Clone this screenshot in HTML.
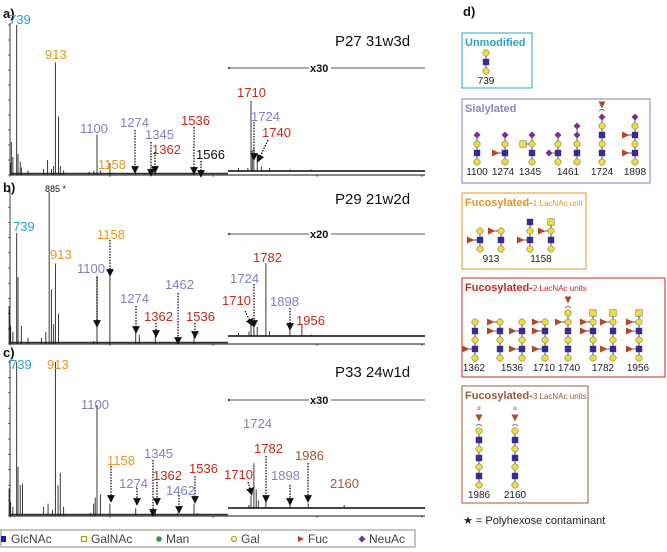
<!DOCTYPE html>
<html><head><meta charset="utf-8"><style>
html,body{margin:0;padding:0;background:#fff;}
svg{display:block;font-family:"Liberation Sans",sans-serif;}
</style></head><body>
<svg id="fig" width="667" height="552" viewBox="0 0 667 552" xmlns="http://www.w3.org/2000/svg">
<defs>
<marker id="ah" markerWidth="6" markerHeight="6" refX="3" refY="3" orient="auto"><path d="M0,0 L6,3 L0,6 z" fill="#111"/></marker>
</defs>
</svg>
<script>
// ---- data ----
const peaksA_mz=[712,715,722,739,745,755,760,790,860,878,895,905,913,927,935,950,1064,1086,1100,1115,1158,1274,1345,1362,1536,1566];
const peaksA_int=[8,22,12,100,14,9,5,3,4,10,4,6,75,39,6,3,2,3,27,3,8,3,2,3,3,1];
const insetA_mz=[1650,1695,1710,1716,1724,1740,1760,1800,1900,2000];
const insetA_int=[2,2,47,14,16,10,3,2,1,1];
const peaksB_mz=[705,712,722,739,745,760,790,850,870,885,895,905,913,927,1085,1100,1158,1274,1290,1362,1462,1536];
const peaksB_int=[25,12,8,73,44,12,4,4,8,100,36,13,53,20,2,45,49,10,6,7,1,6];
const insetB_mz=[1650,1700,1710,1724,1740,1782,1800,1898,1956,2000];
const insetB_int=[2,3,8,12,6,48,3,6,8,1];
const peaksC_mz=[705,712,722,739,745,755,765,860,880,900,913,925,935,950,1070,1085,1092,1100,1115,1158,1274,1345,1362,1462,1536,1550];
const peaksC_int=[18,9,6,100,32,20,21,6,8,4,100,20,28,6,2,8,12,72,14,8,5,2,4,2,8,2];
const insetC_mz=[1700,1710,1724,1735,1745,1782,1898,1986,2160];
const insetC_int=[2,8,29,12,5,5,2,3,2];

const NS="http://www.w3.org/2000/svg";
const svg=document.getElementById('fig');
function el(tag,attrs,parent){const e=document.createElementNS(NS,tag);for(const k in attrs)e.setAttribute(k,attrs[k]);(parent||svg).appendChild(e);return e;}
function txt(x,y,s,attrs,parent){const t=el('text',Object.assign({x:x,y:y},attrs||{}),parent);t.textContent=s;return t;}
const xMain=m=>97+(m-1100)*0.2225;
const xIns=m=>251+(m-1710)*0.207;
const CYAN="#2aa3c8",ORG="#e8961e",PUR="#7f80c4",RED="#c8281e",BRN="#a0583a";

const panels=[
 {id:'a',top:25,base:175,ins:171,mz:peaksA_mz,it:peaksA_int,imz:insetA_mz,iit:insetA_int,line:68,mult:'x30',title:'P27 31w3d',ty:46,ly:18,
  labels:[['739',9,24,CYAN],['913',45,59,ORG],['1100',80,133,PUR],['1274',120,127,PUR],['1345',145,139,PUR],['1362',152,154,RED],['1536',181,125,RED],['1566',196,159,'#111'],['1158',98,169,ORG],['1710',237,97,RED],['1724',251,121,PUR],['1740',262,137,RED]],
  arrows:[[135,130,135,170],[151,142,151,173],[155,152,155,170],[194,127,194,171],[201,161,201,174],[254,122,254,157],[268,140,259,159]]},
 {id:'b',top:192,base:344,ins:336,mz:peaksB_mz,it:peaksB_int,imz:insetB_mz,iit:insetB_int,line:234,mult:'x20',title:'P29 21w2d',ty:204,ly:192,
  labels:[['739',13,231,CYAN],['1158',97,239,ORG],['913',50,259,ORG],['1100',77,273,PUR],['1274',120,303,PUR],['1362',144,321,RED],['1536',186,321,RED],['1462',165,289,PUR],['1782',253,262,RED],['1724',230,283,PUR],['1710',222,305,RED],['1898',270,306,PUR],['1956',296,325,RED]],
  arrows:[[97,277,97,324],[110,240,110,273],[136,306,136,330],[156,323,156,334],[178,293,178,341],[195,323,195,335],[254,284,254,324],[245,311,251,323],[290,308,290,327]]},
 {id:'c',top:362,base:516,ins:508,mz:peaksC_mz,it:peaksC_int,imz:insetC_mz,iit:insetC_int,line:400,mult:'x30',title:'P33 24w1d',ty:377,ly:357,
  labels:[['739',10,369,CYAN],['913',47,369,ORG],['1100',81,409,PUR],['1158',107,465,ORG],['1345',144,458,PUR],['1274',119,488,PUR],['1362',153,480,RED],['1462',166,495,PUR],['1536',189,473,RED],['1710',224,479,RED],['1724',243,428,PUR],['1782',254,453,RED],['1898',271,480,PUR],['1986',295,460,BRN],['2160',330,488,BRN]],
  arrows:[[111,466,111,499],[137,488,137,502],[153,460,153,513],[157,482,157,502],[179,495,179,510],[195,476,195,500],[248,482,251,492],[266,456,266,499],[290,485,290,502],[308,463,308,499]]}
];

panels.forEach(p=>{
  const g=el('g',{});
  
  
  const h=p.base-p.top;
  txt(3,p.ly,p.id+')',{'font-size':13,'font-weight':'bold',fill:'#111'},g);
  const t=txt(335,p.ty,p.title,{'font-size':15,fill:'#111'},g);
  
  
  const ax=el('line',{x1:10,y1:p.base,x2:425,y2:p.base,stroke:'#111','stroke-width':1},g);
  
  
  const ay=el('line',{x1:10,y1:p.top-2,x2:10,y2:p.base,stroke:'#111','stroke-width':0.8},g);
  
  
  for(let i=0;i<=10;i++){const y=p.base-h*i/10;el('line',{x1:8,y1:y,x2:10,y2:y,stroke:'#111','stroke-width':0.6},g);}
  [10,110,213,317,422].forEach(x=>el('line',{x1:x,y1:p.base,x2:x,y2:p.base+2,stroke:'#111','stroke-width':0.6},g));
  el('line',{x1:10,y1:p.base-1.5,x2:228,y2:p.base-1.5,stroke:'#333','stroke-width':1.6},g);
  p.mz.forEach((m,i)=>{const x=xMain(m);const l=el('line',{x1:x,y1:p.base,x2:x,y2:p.base-h*p.it[i]/100,stroke:'#222','stroke-width':0.9},g);
    
    });
  el('line',{x1:228,y1:p.ins,x2:425,y2:p.ins,stroke:'#444','stroke-width':2},g);
  p.imz.forEach((m,i)=>{const x=xIns(m);const l=el('line',{x1:x,y1:p.ins,x2:x,y2:p.ins-h*p.iit[i]/100,stroke:'#222','stroke-width':0.9},g);
    
    });
  el('line',{x1:228,y1:p.line,x2:425,y2:p.line,stroke:'#222','stroke-width':0.8},g);
  el('circle',{cx:229,cy:p.line,r:1,fill:'#222'},g);
  el('rect',{x:309,y:p.line-6,width:22,height:12,fill:'#fff'},g);
  const mt=txt(310,p.line+4,p.mult,{'font-size':11,'font-weight':'bold',fill:'#111'},g);
  
  
  p.labels.forEach(L=>{const e=txt(L[1],L[2],L[0],{'font-size':13,fill:L[3]},g);
    
    });
  p.arrows.forEach(a=>{el('line',{x1:a[0],y1:a[1],x2:a[2],y2:a[3],stroke:'#111','stroke-width':1.3,'stroke-dasharray':'1.5,1.3','marker-end':'url(#ah)'},g);});
});
txt(45,192,'885 *',{'font-size':9,fill:'#111'});

const Y="#f2dc3a",B="#3b2a8f",F="#b5452b",S="#7b2f8f";
function sym(t,x,y,g){
  if(t==='G')el('circle',{cx:x,cy:y,r:3.2,fill:Y,stroke:'#555','stroke-width':0.5},g);
  else if(t==='N')el('rect',{x:x-3.2,y:y-3.2,width:6.4,height:6.4,fill:B},g);
  else if(t==='A')el('rect',{x:x-3.2,y:y-3.2,width:6.4,height:6.4,fill:Y,stroke:'#555','stroke-width':0.5},g);
  else if(t==='S')el('polygon',{points:`${x},${y-3.5} ${x+3.5},${y} ${x},${y+3.5} ${x-3.5},${y}`,fill:S},g);
  else if(t==='F')el('polygon',{points:`${x-4},${y-3.5} ${x+3.5},${y} ${x-4},${y+3.5}`,fill:F},g);
  else if(t==='T')el('polygon',{points:`${x-3.5},${y-3.5} ${x+3.5},${y-3.5} ${x},${y+3.5}`,fill:F},g);
  else if(t==='B')el('path',{d:`M${x-3},${y+1} Q${x},${y-2} ${x+3},${y+1}`,fill:'none',stroke:'#555','stroke-width':0.7},g);
}
function glycan(name,x,yb,chain,sp){
  sp=sp||9;
  const g=el('g',{});
  
  
  const main=chain.map(c=>c.split('<'));
  const yTop=yb-sp*(main.length-1);
  el('line',{x1:x,y1:yb,x2:x,y2:yTop,stroke:'#333','stroke-width':0.8},g);
  main.forEach((m,i)=>{const y=yb-sp*i;
    if(m[1]){el('line',{x1:x-9,y1:y,x2:x,y2:y,stroke:'#333','stroke-width':0.8},g);sym(m[1],x-9,y,g);}
  });
  main.forEach((m,i)=>sym(m[0],x,yb-sp*i,g));
  return g;
}
function box(name,x,y,w,h,col){const r=el('rect',{x:x,y:y,width:w,height:h,fill:'none',stroke:col,'stroke-width':1});
  
  }
function lbl(x,y,s){txt(x,y,s,{'font-size':10,fill:'#222','text-anchor':'middle'});}

txt(463,16,'d)',{'font-size':13,'font-weight':'bold',fill:'#111'});
box('unmodified-box',462,33,70,55,CYAN);
txt(465,46,'Unmodified',{'font-size':11,'font-weight':'bold',fill:CYAN});
glycan('739',486,71,['G','N','G']);lbl(486,84,'739');
box('sialylated-box',462,99,188,84,PUR);
txt(465,112,'Sialylated',{'font-size':11,'font-weight':'bold',fill:'#8a86c0'});
glycan('1100',477,162,['G','N','G','S']);lbl(477,175,'1100');
glycan('1274',505,162,['G','N<F','G','S']);lbl(503,175,'1274');
glycan('1345',532,162,['G','N','G<A','S']);lbl(530,175,'1345');
glycan('1461a',558,162,['G','N<S','G','S']);
glycan('1461b',577,162,['G','N','G','S','S']);lbl(568,175,'1461');
(function(){const g=glycan('1724',602,162,['G','N','G','N','G','S']);sym('B',602,110,g);sym('T',602,105,g);})();lbl(602,175,'1724');
glycan('1898',635,162,['G','N<F','G','N<F','G','S']);lbl(635,175,'1898');
box('fucosylated-1-box',462,193,124,76,ORG);
(function(){const t=txt(465,206,'',{'font-size':11,fill:ORG});const a=el('tspan',{'font-weight':'bold'},t);a.textContent='Fucosylated-';const b=el('tspan',{'font-size':8},t);b.textContent='1 LacNAc unit';})();
glycan('913a',480,249,['G','N<F','G']);
glycan('913b',501,249,['G','N','G<F']);lbl(491,262,'913');
glycan('1158a',530,249,['G','N<F','G','N']);
glycan('1158b',551,249,['G','N','G<F','A']);lbl(541,262,'1158');
box('fucosylated-2-box',462,278,203,99,RED);
(function(){const t=txt(465,291,'',{'font-size':11,fill:RED});const a=el('tspan',{'font-weight':'bold'},t);a.textContent='Fucosylated-';const b=el('tspan',{'font-size':8},t);b.textContent='2 LacNAc units';})();
glycan('1362',475,358,['G','N<F','G','N','G']);lbl(474,371,'1362');
glycan('1536a',500,358,['G','N','G','N<F','G<F']);
glycan('1536b',522,358,['G','N<F','G','N<F','G']);lbl(512,371,'1536');
glycan('1710',545,358,['G','N<F','G','N<F','G<F']);lbl(544,371,'1710');
(function(){const g=glycan('1740',568,358,['G','N','G','N','G<F','G']);sym('B',568,307,g);sym('T',568,300,g);})();lbl(569,371,'1740');
glycan('1782a',593,358,['G','N','G','N<F','G<F','A']);
glycan('1782b',613,358,['G','N<F','G','N','G<F','A']);lbl(603,371,'1782');
glycan('1956',639,358,['G','N<F','G','N<F','G<F','A']);lbl(638,371,'1956');
box('fucosylated-3-box',462,386,126,117,BRN);
(function(){const t=txt(465,399,'',{'font-size':11,fill:BRN});const a=el('tspan',{'font-weight':'bold'},t);a.textContent='Fucosylated-';const b=el('tspan',{'font-size':8},t);b.textContent='3 LacNAc units';})();
[[479,'1986'],[515,'2160']].forEach(c=>{const g=glycan(c[1],c[0],485,['G','N','G','N','G','N','G']);sym('B',c[0],425,g);sym('T',c[0],418,g);txt(c[0],410,'α',{'font-size':6,fill:'#555','text-anchor':'middle'},g);lbl(c[0],498,c[1]);});
txt(463,524,'★ = Polyhexose contaminant',{'font-size':11,fill:'#222'});

(function(){const g=el('g',{});


el('rect',{x:1,y:530,width:414,height:17,fill:'#fff',stroke:'#888','stroke-width':1},g);
const items=[['N','GlcNAc',4],['A','GalNAc',84],['M','Man',159],['G','Gal',234],['F','Fuc',301],['S','NeuAc',362]];
items.forEach(it=>{
  if(it[0]==='M')el('circle',{cx:it[2],cy:539,r:2.8,fill:'#2e9a4a'},g);
  else if(it[0]==='N')el('rect',{x:it[2]-3,y:536,width:5,height:6,fill:'#1a1acc'},g);
  else if(it[0]==='F')el('polygon',{points:`${it[2]-3},${536} ${it[2]+3},${539} ${it[2]-3},${542}`,fill:F},g);
  else if(it[0]==='G')el('circle',{cx:it[2],cy:539,r:2.5,fill:'#fff',stroke:'#b8a000','stroke-width':1.2},g);
  else if(it[0]==='A')el('rect',{x:it[2]-2.5,y:536.5,width:5,height:5,fill:'#fff',stroke:'#b8a000','stroke-width':1.2},g);
  else sym(it[0],it[2],539,g);
  const t=txt(it[2]+7,543,it[1],{'font-size':12,fill:'#444'},g);
  
  
});})();
</script>
</body></html>
